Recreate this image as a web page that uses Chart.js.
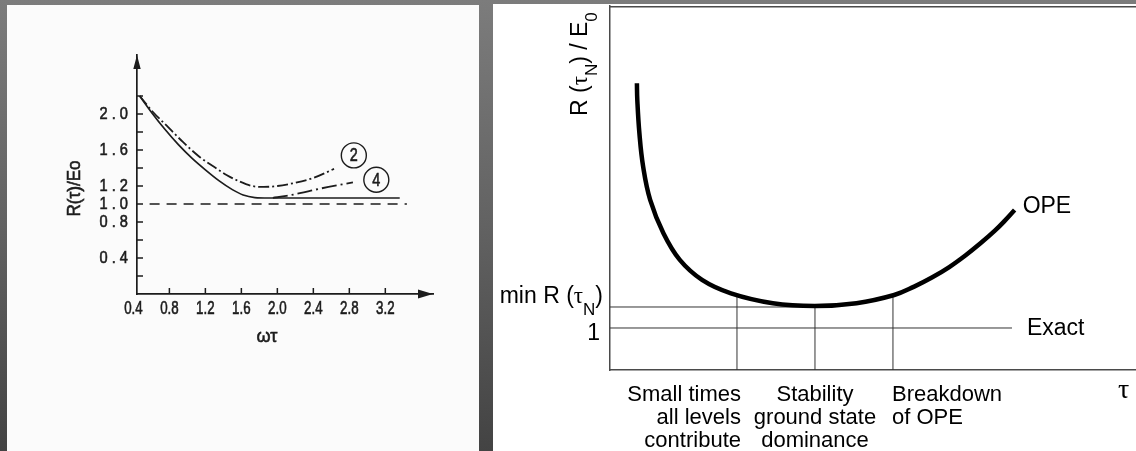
<!DOCTYPE html>
<html>
<head>
<meta charset="utf-8">
<title>R(τ)/E0</title>
<script src="https://cdn.jsdelivr.net/npm/chart.js@4.4.0/dist/chart.umd.min.js"></script>
<style>
  html, body { margin: 0; padding: 0; }
  body {
    width: 1136px; height: 451px; overflow: hidden; position: relative;
    background: linear-gradient(to bottom, #7c7c7c 0%, #626262 50%, #434343 100%);
  }
  .panel { position: absolute; overflow: hidden; }
  .panel canvas { display: block; }
  #leftPanel { left: 7px; top: 5px; width: 472px; height: 446px; background: #fbfbfb; }
  #rightPanel { left: 493px; top: 4px; width: 643px; height: 447px; background: #fff; }
  #leftCanvas { filter: blur(0.4px); }
</style>
</head>
<body>
<div class="panel" id="leftPanel"><canvas id="leftCanvas" width="472" height="446"></canvas></div>
<div class="panel" id="rightPanel"><canvas id="rightCanvas" width="643" height="447"></canvas></div>
<script>
// ---- left figure: R(tau)/E0 against omega*tau ----
const omegaTauTicks = [0.4, 0.8, 1.2, 1.6, 2.0, 2.4, 2.8, 3.2];
const ratioTicks = [0.2, 0.4, 0.6, 0.8, 1.0, 1.2, 1.4, 1.6, 1.8, 2.0, 2.2];
const ratioLabels = [0.4, 0.8, 1.0, 1.2, 1.6, 2.0];

const exactX = [0.58, 3.44];
const exactY = [1.0, 1.0];

const solidX = [0.47, 0.60, 0.75, 0.90, 1.05, 1.20, 1.35, 1.50, 1.62, 1.75, 1.90, 2.40, 3.36];
const solidY = [2.20, 2.02, 1.83, 1.66, 1.51, 1.38, 1.26, 1.16, 1.10, 1.072, 1.067, 1.067, 1.067];

const curve2X = [0.47, 0.62, 0.77, 0.95, 1.14, 1.30, 1.44, 1.58, 1.72, 1.85, 2.00, 2.17, 2.40, 2.63];
const curve2Y = [2.20, 2.02, 1.87, 1.69, 1.52, 1.41, 1.32, 1.25, 1.20, 1.19, 1.20, 1.23, 1.29, 1.39];

const curve4X = [1.95, 2.10, 2.25, 2.47, 2.84];
const curve4Y = [1.068, 1.09, 1.12, 1.17, 1.24];

// ---- right figure: R(tau_N)/E0 with the OPE ----
const tauN = [0.345, 0.35, 0.377, 0.425, 0.515, 0.685, 0.895, 1.18, 1.551, 2.088, 2.625,
              3.16, 3.644, 3.9, 4.127, 4.35, 4.556, 4.75, 4.931, 5.06, 5.188];
const opeR = [2.165, 2.086, 1.927, 1.768, 1.610, 1.451, 1.324, 1.229, 1.165, 1.118, 1.105,
              1.118, 1.157, 1.197, 1.240, 1.290, 1.345, 1.403, 1.462, 1.510, 1.562];

const minR = 1.1;
const exactR = 1.0;
const exactEnd = 5.154;
const regionTau = [1.628, 2.628, 3.628];
const regionTop = [1.158, 1.105, 1.156];
const regionLabels = [
    ["Small times", "all levels", "contribute"],
    ["Stability", "ground state", "dominance"],
    ["Breakdown", "of OPE"]
];

const ink = "#1c1c1c";
const SANS = '22px "Liberation Sans", Arial, sans-serif';
const SANS_L = '23px "Liberation Sans", Arial, sans-serif';
const SUB = '17px "Liberation Sans", Arial, sans-serif';
const SERIF = '23px "Liberation Serif", "Times New Roman", serif';

function pairs(xs, ys){
    return xs.map((x, i) => ({x: x, y: ys[i]}));
}

// condensed lettering, slightly thickened like pen lettering
function narrowText(ctx, text, x, y, align, sx){
    ctx.save();
    ctx.translate(x, y);
    ctx.scale(sx, 1);
    ctx.textAlign = align;
    ctx.lineWidth = 0.6;
    ctx.fillText(text, 0, 0);
    ctx.strokeText(text, 0, 0);
    ctx.restore();
}

// text made of pieces in different fonts (for the subscripts)
function richText(ctx, parts, x, y, align){
    let w = 0;
    parts.forEach(p => { ctx.font = p.f; w += ctx.measureText(p.t).width; });
    let cx = align === "right" ? x - w : align === "center" ? x - w / 2 : x;
    ctx.textAlign = "left";
    parts.forEach(p => {
        ctx.font = p.f;
        ctx.fillText(p.t, cx, y + (p.dy || 0));
        cx += ctx.measureText(p.t).width;
    });
}

const leftDecor = {
    id: "leftDecor",
    afterDraw(chart){
        const {ctx, chartArea: a, scales: {x, y}} = chart;
        ctx.save();
        ctx.strokeStyle = ink;
        ctx.fillStyle = ink;
        ctx.lineWidth = 1.5;

        // tick marks point into the plot
        ctx.beginPath();
        omegaTauTicks.slice(1).forEach(v => {
            const px = x.getPixelForValue(v);
            ctx.moveTo(px, a.bottom);
            ctx.lineTo(px, a.bottom - 6);
        });
        ratioTicks.forEach(v => {
            const py = y.getPixelForValue(v);
            ctx.moveTo(a.left, py);
            ctx.lineTo(a.left + 6, py);
        });
        ctx.stroke();

        // arrow heads
        ctx.beginPath();
        ctx.moveTo(a.left, a.top);
        ctx.lineTo(a.left - 3.7, a.top + 14);
        ctx.lineTo(a.left + 3.7, a.top + 14);
        ctx.closePath();
        ctx.moveTo(a.right, a.bottom);
        ctx.lineTo(a.right - 15, a.bottom - 4.5);
        ctx.lineTo(a.right - 15, a.bottom + 4.5);
        ctx.closePath();
        ctx.fill();

        // tick labels
        ctx.textBaseline = "middle";
        ctx.font = '18px "Liberation Sans", Arial, sans-serif';
        omegaTauTicks.forEach(v => {
            narrowText(ctx, v.toFixed(1), x.getPixelForValue(v), a.bottom + 15, "center", 0.74);
        });
        ctx.font = '17px "Liberation Sans", Arial, sans-serif';
        ratioLabels.forEach(v => {
            narrowText(ctx, v.toFixed(1).split("").join(" "), a.left - 9, y.getPixelForValue(v), "right", 0.86);
        });

        // axis titles
        ctx.font = '19px "Liberation Sans", Arial, sans-serif';
        narrowText(ctx, "ωτ", a.left + 130, a.bottom + 43, "center", 0.95);
        ctx.save();
        ctx.translate(a.left - 62, (a.top + a.bottom) / 2 + 14);
        ctx.rotate(-Math.PI / 2);
        ctx.font = '18px "Liberation Sans", Arial, sans-serif';
        narrowText(ctx, "R(τ)/Eo", 0, 0, "center", 0.95);
        ctx.restore();

        // circled curve numbers
        ctx.font = '18px "Liberation Sans", Arial, sans-serif';
        [["2", 2.85, 1.54], ["4", 3.10, 1.27]].forEach(([n, vx, vy]) => {
            const px = x.getPixelForValue(vx), py = y.getPixelForValue(vy);
            ctx.lineWidth = 1.4;
            ctx.beginPath();
            ctx.arc(px, py, 12.5, 0, Math.PI * 2);
            ctx.stroke();
            narrowText(ctx, n, px, py + 1, "center", 0.8);
        });
        ctx.restore();
    }
};

const rightDecor = {
    id: "rightDecor",
    afterDraw(chart){
        const {ctx, chartArea: a, scales: {x, y}} = chart;
        ctx.save();

        // top edge of the frame
        ctx.strokeStyle = "#4a4a4a";
        ctx.lineWidth = 1.5;
        ctx.beginPath();
        ctx.moveTo(a.left, a.top + 0.75);
        ctx.lineTo(a.right, a.top + 0.75);
        ctx.stroke();

        ctx.fillStyle = "#000";
        ctx.textBaseline = "alphabetic";

        // levels on the vertical axis
        richText(ctx, [
            {t: "min R (", f: SANS_L},
            {t: "τ", f: SERIF},
            {t: "N", f: SUB, dy: 12},
            {t: ")", f: SANS_L}
        ], a.left - 7, y.getPixelForValue(minR) - 4, "right");
        richText(ctx, [{t: "1", f: SANS_L}], a.left - 10, y.getPixelForValue(exactR) + 12, "right");

        // vertical axis title, read upwards
        ctx.save();
        ctx.translate(a.left - 23, a.top + 110);
        ctx.rotate(-Math.PI / 2);
        richText(ctx, [
            {t: "R (", f: SANS_L},
            {t: "τ", f: SERIF},
            {t: "N", f: SUB, dy: 10},
            {t: ") / E", f: SANS_L},
            {t: "0", f: SUB, dy: 10}
        ], 0, 0, "left");
        ctx.restore();

        // regions along tau
        const aligns = ["right", "center", "left"];
        const shifts = [4, 0, -1];
        regionLabels.forEach((lines, i) => {
            const px = x.getPixelForValue(regionTau[i]) + shifts[i];
            lines.forEach((txt, j) => {
                richText(ctx, [{t: txt, f: SANS}], px, a.bottom + 31 + j * 23, aligns[i]);
            });
        });

        // curve and line names
        const last = tauN.length - 1;
        richText(ctx, [{t: "OPE", f: SANS_L}],
            x.getPixelForValue(tauN[last]) + 8, y.getPixelForValue(opeR[last]) + 3, "left");
        richText(ctx, [{t: "Exact", f: SANS_L}],
            x.getPixelForValue(exactEnd) + 15, y.getPixelForValue(exactR) + 7, "left");
        richText(ctx, [{t: "τ", f: '28px "Liberation Serif", "Times New Roman", serif'}], a.right - 18, a.bottom + 28, "left");

        ctx.restore();
    }
};

new Chart(document.getElementById("leftCanvas"), {
    type: "scatter",
    data: {
        datasets: [
            {data: pairs(solidX, solidY), borderColor: ink, borderWidth: 1.7, cubicInterpolationMode: "monotone"},
            {data: pairs(curve2X, curve2Y), borderColor: ink, borderWidth: 1.8, borderDash: [11, 3, 2, 3], cubicInterpolationMode: "monotone"},
            {data: pairs(curve4X, curve4Y), borderColor: ink, borderWidth: 1.8, borderDash: [15, 4, 2, 4], cubicInterpolationMode: "monotone"},
            {data: pairs(exactX, exactY), borderColor: ink, borderWidth: 1.5, borderDash: [10, 7]}
        ]
    },
    options: {
        responsive: false,
        animation: false,
        showLine: true,
        elements: {point: {radius: 0}},
        layout: {padding: {left: 0, top: 50, right: 46, bottom: 0}},
        plugins: {legend: {display: false}, tooltip: {enabled: false}},
        scales: {
            x: {
                type: "linear", min: 0.44, max: 3.73,
                grid: {display: false},
                border: {color: ink, width: 1.7},
                ticks: {display: false},
                afterFit: s => { s.height = 157; }
            },
            y: {
                type: "linear", min: 0, max: 2.656,
                grid: {display: false},
                border: {color: ink, width: 1.7},
                ticks: {display: false},
                afterFit: s => { s.width = 130; }
            }
        }
    },
    plugins: [leftDecor]
});

const thin = {borderColor: "#333", borderWidth: 1, tension: 0};

new Chart(document.getElementById("rightCanvas"), {
    type: "scatter",
    data: {
        datasets: [
            {data: pairs(tauN, opeR), borderColor: "#000", borderWidth: 4.5, tension: 0.4},
            Object.assign({data: [{x: 0, y: minR}, {x: regionTau[1], y: minR}]}, thin),
            Object.assign({data: [{x: 0, y: exactR}, {x: exactEnd, y: exactR}]}, thin),
            ...regionTau.map((t, i) => Object.assign({data: [{x: t, y: 0.8}, {x: t, y: regionTop[i]}]}, thin))
        ]
    },
    options: {
        responsive: false,
        animation: false,
        showLine: true,
        elements: {point: {radius: 0}},
        layout: {padding: {left: 0, top: 2, right: 0, bottom: 0}},
        plugins: {legend: {display: false}, tooltip: {enabled: false}},
        scales: {
            x: {
                type: "linear", min: 0, max: 6.744,
                grid: {display: false},
                border: {color: "#4a4a4a", width: 1.5},
                ticks: {display: false},
                afterFit: s => { s.height = 81; }
            },
            y: {
                type: "linear", min: 0.8, max: 2.533,
                grid: {display: false},
                border: {color: "#4a4a4a", width: 1.5},
                ticks: {display: false},
                afterFit: s => { s.width = 117; }
            }
        }
    },
    plugins: [rightDecor]
});
</script>
</body>
</html>
